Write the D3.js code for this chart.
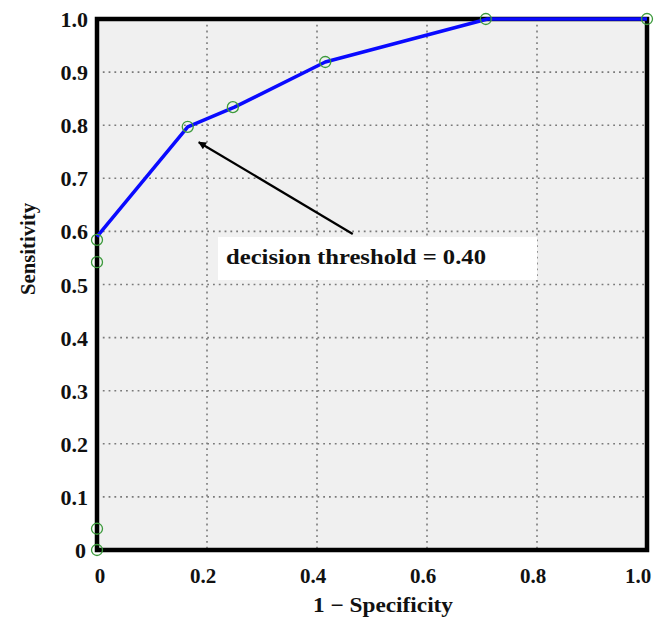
<!DOCTYPE html>
<html><head><meta charset="utf-8">
<script src="https://cdn.jsdelivr.net/npm/d3@7"></script>
<style>body{margin:0;background:#fff}svg{display:block}</style>
</head><body>
<svg id="c" width="667" height="621"></svg>
<script>
const xTicks = [0, 0.2, 0.4, 0.6, 0.8, 1.0];
const xTickLabels = ["0", "0.2", "0.4", "0.6", "0.8", "1.0"];
const yTicks = [0, 0.1, 0.2, 0.3, 0.4, 0.5, 0.6, 0.7, 0.8, 0.9, 1.0];
const yTickLabels = ["0", "0.1", "0.2", "0.3", "0.4", "0.5", "0.6", "0.7", "0.8", "0.9", "1.0"];
const curveFPR = [0, 0.165, 0.25, 0.415, 0.71, 1.0];
const curveTPR = [0.59, 0.797, 0.834, 0.919, 1.0, 1.0];
const pointFPR = [0, 0, 0, 0, 0.165, 0.247, 0.415, 0.707, 1.0];
const pointTPR = [0, 0.04, 0.542, 0.584, 0.797, 0.834, 0.919, 1.0, 1.0];
const annotation = "decision threshold = 0.40";
const arrowFrom = [0.465, 0.595];
const arrowTo = [0.185, 0.768];

const svg = d3.select("#c");
const L = 97, R = 647, T = 19, B = 550;
const x = d3.scaleLinear().domain([0, 1]).range([L, R]);
const y = d3.scaleLinear().domain([0, 1]).range([B, T]);
const font = "'Liberation Serif','Times New Roman',serif";

svg.append("rect").attr("x", L).attr("y", T).attr("width", R - L).attr("height", B - T).attr("fill", "#f0f0f0");

// grid
const g = svg.append("g");
g.selectAll("line.gx").data(xTicks.slice(1, -1)).join("line")
  .attr("x1", d => x(d)).attr("x2", d => x(d)).attr("y1", T).attr("y2", B)
  .attr("stroke", "#7a7a7a").attr("stroke-width", 1.6).attr("stroke-dasharray", "1.8,4");
g.selectAll("line.gy").data(yTicks.slice(1, -1)).join("line")
  .attr("y1", d => y(d)).attr("y2", d => y(d)).attr("x1", L).attr("x2", R)
  .attr("stroke", "#7a7a7a").attr("stroke-width", 1.6).attr("stroke-dasharray", "1.8,4");

// label box
svg.append("rect").attr("x", 218).attr("y", 237).attr("width", 319).attr("height", 43).attr("fill", "#fff");
svg.append("text").attr("x", 226).attr("y", 264).attr("font-family", font).attr("font-weight", "bold")
  .attr("font-size", 22).attr("fill", "#111")
  .attr("textLength", 260).attr("lengthAdjust", "spacingAndGlyphs").text(annotation);

// arrow
svg.append("defs").append("marker").attr("id", "ah").attr("viewBox", "0 0 10 10")
  .attr("refX", 9).attr("refY", 5).attr("markerWidth", 12).attr("markerHeight", 8)
  .attr("markerUnits", "userSpaceOnUse").attr("orient", "auto")
  .append("path").attr("d", "M0,0L10,5L0,10z").attr("fill", "#000");
svg.append("line").attr("x1", x(arrowFrom[0])).attr("y1", y(arrowFrom[1]))
  .attr("x2", x(arrowTo[0])).attr("y2", y(arrowTo[1]))
  .attr("stroke", "#000").attr("stroke-width", 2.2).attr("marker-end", "url(#ah)");

// frame
svg.append("rect").attr("x", L).attr("y", T).attr("width", R - L).attr("height", B - T)
  .attr("fill", "none").attr("stroke", "#000").attr("stroke-width", 4.5);

// curve
const pts = curveFPR.map((d, i) => [x(d), y(curveTPR[i])]);
svg.append("path").attr("d", d3.line()(pts)).attr("fill", "none").attr("stroke", "#0a0aff")
  .attr("stroke-width", 3.5).attr("stroke-linejoin", "round");

// points
svg.selectAll("circle.p").data(pointFPR).join("circle")
  .attr("cx", d => x(d)).attr("cy", (d, i) => y(pointTPR[i])).attr("r", 5.5)
  .attr("fill", "none").attr("stroke", "#3c9a3c").attr("stroke-width", 1.3);

// y tick labels
svg.selectAll("text.yt").data(yTicks).join("text")
  .attr("x", (d, i) => i === 0 ? 86 : 88).attr("y", d => y(d) + 8).attr("text-anchor", "end")
  .attr("font-family", font).attr("font-weight", "bold").attr("font-size", 22).attr("fill", "#111")
  .text((d, i) => yTickLabels[i]);

// x tick labels
svg.selectAll("text.xt").data(xTicks).join("text")
  .attr("x", (d, i) => x(d) + (i === 0 ? 3 : i === xTicks.length - 1 ? -9 : -4)).attr("y", 583).attr("text-anchor", "middle")
  .attr("font-family", font).attr("font-weight", "bold").attr("font-size", 21).attr("fill", "#111")
  .text((d, i) => xTickLabels[i]);

// axis titles
svg.append("text").attr("x", 313).attr("y", 612)
  .attr("font-family", font).attr("font-weight", "bold").attr("font-size", 21).attr("fill", "#111")
  .attr("textLength", 140).attr("lengthAdjust", "spacingAndGlyphs")
  .text("1 − Specificity");
svg.append("text").attr("transform", "translate(35,295) rotate(-90)")
  .attr("font-family", font).attr("font-weight", "bold").attr("font-size", 21).attr("fill", "#111")
  .attr("textLength", 92).attr("lengthAdjust", "spacingAndGlyphs")
  .text("Sensitivity");
</script>
</body></html>
